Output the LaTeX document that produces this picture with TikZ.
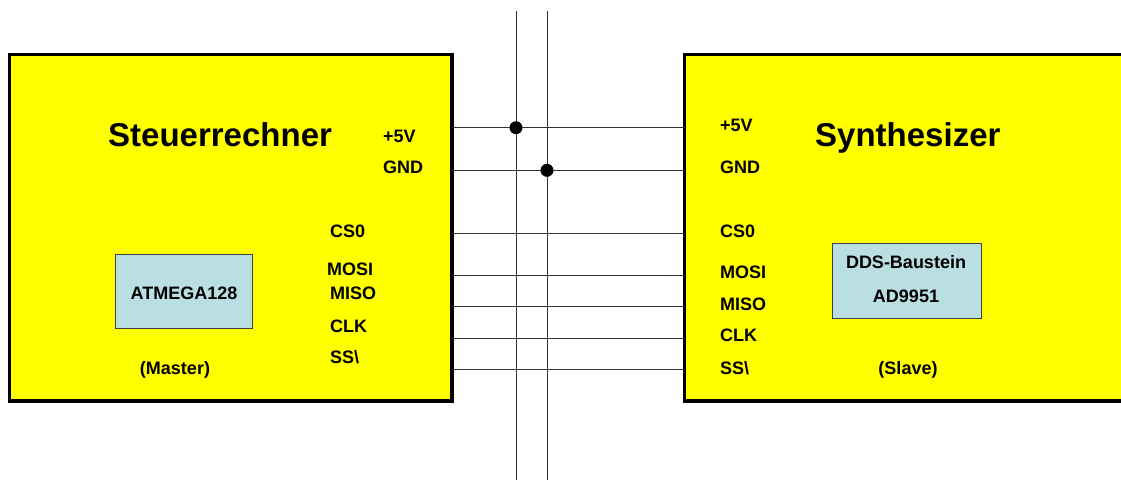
\documentclass[tikz,border=0pt]{standalone}
\usepackage{fontspec}
\setmainfont{Liberation Sans}
\begin{document}
\begin{tikzpicture}[x=1pt,y=-1pt,
  unit/.style={draw=black,line width=3.5pt,fill=unityellow,rectangle,inner sep=0pt},
  chip/.style={draw=black!75,line width=0.8pt,fill=chipblue,rectangle,inner sep=0pt},
  pin/.style={anchor=base west,inner sep=0pt,font=\fontsize{18}{20}\bfseries\selectfont},
  title/.style={anchor=base west,inner sep=0pt,font=\fontsize{33}{36}\bfseries\selectfont},
  lbl/.style={anchor=base,inner sep=0pt,font=\fontsize{18}{20}\bfseries\selectfont},
  wire/.style={draw=black!80,line width=1pt},
  dot/.style={circle,fill=black,inner sep=0pt,minimum size=13pt}]
\definecolor{chipblue}{RGB}{185,223,227}
\definecolor{unityellow}{RGB}{255,255,0}
\useasboundingbox[fill=white] (0,0) rectangle (1121,480);
% units
\node[unit,minimum width=442.7pt,minimum height=346.5pt] (lbox) at (230.65,227.75) {};
\begin{scope}
\clip (0,0) rectangle (1121,480);
\node[unit,minimum width=460pt,minimum height=346.5pt] (rbox) at (914.7,227.75) {};
\end{scope}
% chips
\node[chip,minimum width=137pt,minimum height=74pt] (atm) at (183.5,291) {};
\node[anchor=base,inner sep=0pt,font=\fontsize{18}{20}\bfseries\selectfont] (atmt) at (184,299.5) {ATMEGA128};
\node[chip,minimum width=149pt,minimum height=75pt] (dds) at (906.5,280.5) {};
\node[lbl] (ddst1) at (906,268.5) {DDS-Baustein};
\node[lbl] (ddst2) at (906,302.5) {AD9951};
% titles
\node[title] (lt) at (108,146.5) {Steuerrechner};
\node[title] (rt) at (815,146.5) {Synthesizer};
\node[lbl] (master) at (175,374.5) {(Master)};
\node[lbl] (slave) at (908,374.5) {(Slave)};
% left pins
\node[pin] (l1) at (383,142.5) {+5V};
\node[pin] (l2) at (383,173.5) {GND};
\node[pin] (l3) at (330,237.5) {CS0};
\node[pin] (l4) at (327,275.5) {MOSI};
\node[pin] (l5) at (330,299.5) {MISO};
\node[pin] (l6) at (330,332.5) {CLK};
\node[pin] (l7) at (330,363.5) {SS\textbackslash};
% right pins
\node[pin] (r1) at (720,131.5) {+5V};
\node[pin] (r2) at (720,173.5) {GND};
\node[pin] (r3) at (720,237.5) {CS0};
\node[pin] (r4) at (720,278.5) {MOSI};
\node[pin] (r5) at (720,310.5) {MISO};
\node[pin] (r6) at (720,341.5) {CLK};
\node[pin] (r7) at (720,374.5) {SS\textbackslash};
% pin coordinates
\foreach \n/\y in {1/127.7,2/170.3,3/233.3,4/275.3,5/306,6/338.7,7/369.3}{
  \coordinate (pl\n) at (452,\y);
  \coordinate (pr\n) at (684.7,\y);
}
\coordinate (va1) at (516,11);
\coordinate (vb1) at (516,480);
\coordinate (va2) at (547,11);
\coordinate (vb2) at (547,480);
% wires
\foreach \n in {1,...,7}{\draw[wire] (pl\n) -- (pr\n);}
\draw[wire] (va1) -- (vb1);
\draw[wire] (va2) -- (vb2);
\node[dot] (d1) at (516,127.7) {};
\node[dot] (d2) at (547,170.3) {};
\end{tikzpicture}
\end{document}
